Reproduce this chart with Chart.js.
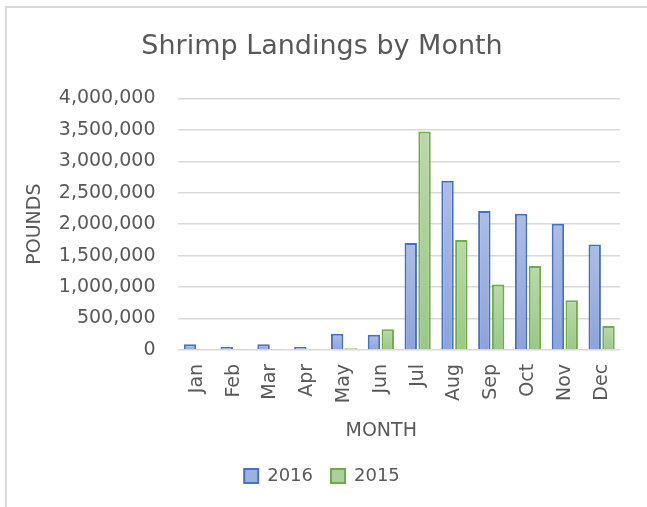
<!DOCTYPE html>
<html>
<head>
<meta charset="utf-8">
<script src="https://cdn.jsdelivr.net/npm/chart.js@4"></script>
<style>
  body { margin: 0; background: #fff; overflow: hidden; }
  .wrap { position: relative; width: 647px; height: 507px; }
  .frame { position: absolute; left: 5px; top: 6px; width: 700px; height: 600px;
           border-left: 2px solid #d9d9d9; border-top: 2px solid #d9d9d9; }
  canvas { position: absolute; left: 0; top: 0; }
</style>
</head>
<body>
<div class="wrap">
  <div class="frame"></div>
  <canvas id="myChart" width="647" height="507"></canvas>
</div>
<script>
const ctx = document.getElementById('myChart');

const meses = ["Jan","Feb","Mar","Apr","May","Jun","Jul","Aug","Sep","Oct","Nov","Dec"];
const valores2016 = [90000, 48000, 90000, 48000, 256000, 240000, 1700000, 2690000, 2210000, 2165000, 2005000, 1675000];
const valores2015 = [10000, 8000, 8000, 8000, 25000, 330000, 3475000, 1750000, 1040000, 1335000, 790000, 380000];
const yTicks = [0, 500000, 1000000, 1500000, 2000000, 2500000, 3000000, 3500000, 4000000];

const gris = "#595959";
const fuente = "'DejaVu Sans', sans-serif";

// degradado por barra, claro arriba y mas oscuro abajo
function degradado(top, bottom){
  return function(c){
    const chart = c.chart;
    if (!chart.chartArea || c.parsed == null) return bottom;
    const y = chart.scales.y;
    const y0 = y.getPixelForValue(c.parsed.y);
    const y1 = y.getPixelForValue(0);
    const g = chart.ctx.createLinearGradient(0, y0, 0, y1 + 1);
    g.addColorStop(0, top);
    g.addColorStop(1, bottom);
    return g;
  }
}

// el titulo MONTH va algo a la izquierda del centro del area, como en Excel
const tituloMes = {
  id: 'tituloMes',
  afterDraw(chart){
    const x = chart.scales.x;
    const c = chart.ctx;
    c.save();
    c.fillStyle = gris;
    c.font = "19px " + fuente;
    c.textAlign = "center";
    c.textBaseline = "middle";
    c.fillText("MONTH", (x.left + x.right) / 2 - 18, x.bottom - 7 - 11.4);
    c.restore();
  }
}

const graph = new Chart(ctx, {
  type: 'bar',
  data: {
    labels: meses,
    datasets: [
      {
        label: "2016",
        data: valores2016,
        borderWidth: 2,
        borderColor: "#4472C4",
        backgroundColor: degradado("#aebde5", "#8ca3da"),
        barPercentage: 0.9,
        categoryPercentage: 0.75
      },
      {
        label: "2015",
        data: valores2015,
        borderWidth: 2,
        borderColor: "#70AD47",
        backgroundColor: degradado("#b9d9ab", "#9bc886"),
        barPercentage: 0.9,
        categoryPercentage: 0.75
      }
    ]
  },
  plugins: [tituloMes],
  options: {
    responsive: false,
    animation: false,
    layout: { padding: { top: 31, left: 24, right: 27, bottom: 12 } },
    plugins: {
      title: {
        display: true,
        text: "Shrimp Landings by Month",
        color: gris,
        font: { family: fuente, size: 27, weight: 'normal' },
        padding: { top: 0, bottom: 35 }
      },
      legend: {
        position: 'bottom',
        labels: {
          color: gris,
          font: { family: fuente, size: 18 },
          boxWidth: 14,
          boxHeight: 14,
          padding: 18,
          generateLabels: function(chart){
            const items = Chart.defaults.plugins.legend.labels.generateLabels(chart);
            items[0].fillStyle = "#9db0e0";
            items[1].fillStyle = "#aad19a";
            return items;
          }
        }
      },
      tooltip: { enabled: false }
    },
    scales: {
      x: {
        grid: { display: false },
        border: { display: false },
        ticks: {
          color: gris,
          font: { family: fuente, size: 19 },
          minRotation: 90,
          maxRotation: 90,
          padding: 6
        },
        title: {
          display: true,
          text: "MONTH",
          color: "rgba(0,0,0,0)",
          font: { family: fuente, size: 19 },
          padding: { top: 10, bottom: 7 }
        }
      },
      y: {
        min: 0,
        max: 4000000,
        afterBuildTicks: function(axis){
          axis.ticks = yTicks.map(v => ({ value: v }));
        },
        grid: { color: "#d9d9d9", lineWidth: 1.5, drawTicks: false },
        border: { display: false },
        ticks: {
          color: gris,
          font: { family: fuente, size: 19 },
          padding: 23,
          callback: v => v.toLocaleString("en-US")
        },
        title: {
          display: true,
          text: "POUNDS",
          color: gris,
          font: { family: fuente, size: 19 },
          padding: { top: 0, bottom: -11 }
        }
      }
    }
  }
});
</script>
</body>
</html>
